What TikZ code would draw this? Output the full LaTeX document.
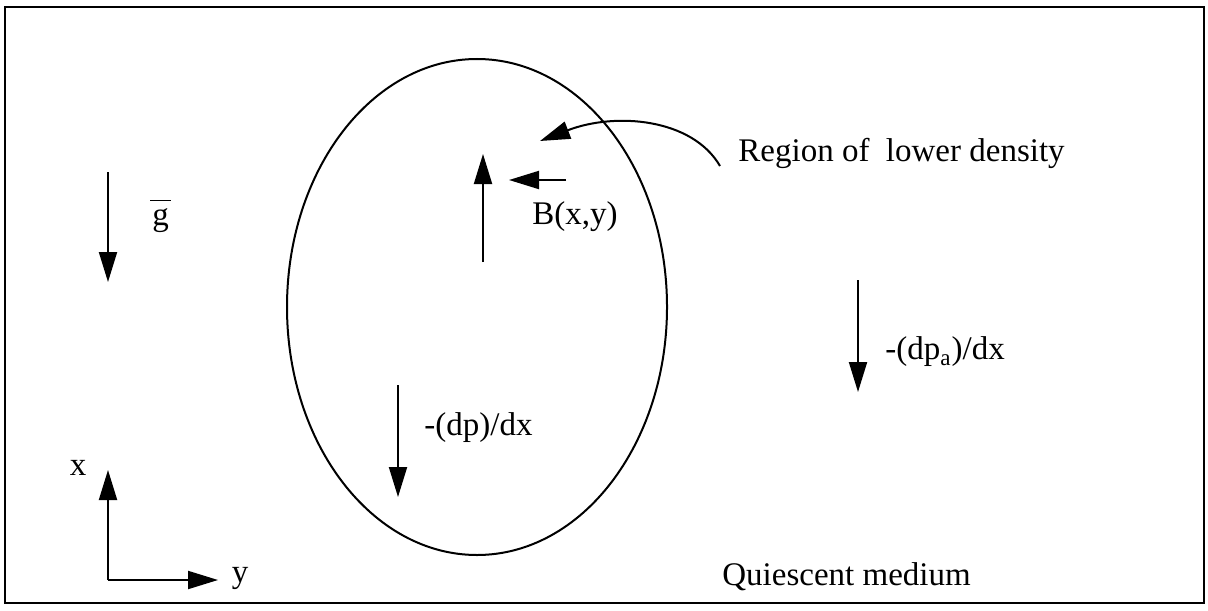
\documentclass[tikz,border=0pt]{standalone}
\usepackage{fontspec}
\setmainfont{Liberation Serif}
\usetikzlibrary{arrows.meta,shapes.geometric}
\begin{document}
\begin{tikzpicture}[x=0.5pt,y=-0.5pt,
  lbl/.style={inner sep=0pt,font=\fontsize{16.5}{19}\selectfont},
  arr/.style={line width=1pt,-{Triangle[length=15pt,width=9pt]}}]
\useasboundingbox (0,0) rectangle (1208,610);
\draw[line width=1.2pt] (5,7) rectangle (1204,603);
% ellipse
\node[draw,line width=1pt,ellipse,minimum width=190pt,minimum height=248pt,inner sep=0pt] (blob) at (477,307) {};
% gravity
\coordinate (g1) at (108,172);
\coordinate (g2) at (108,282);
\draw[arr] (g1) -- (g2);
\node[lbl,anchor=west] (g) at (150,216) {\(\overline{\hbox{\kern1pt g\kern1pt}\vphantom{\hbox{A}}}\)};
% buoyancy
\coordinate (b1) at (483,262);
\coordinate (b2) at (483,154);
\draw[arr] (b1) -- (b2);
\coordinate (s1) at (566,180);
\coordinate (s2) at (509,180);
\draw[arr] (s1) -- (s2);
\node[lbl,anchor=west] (B) at (532,217) {B(x,y)};
% region label
\node[lbl,anchor=west] (reg) at (738,153) {Region of\ \ lower density};
\coordinate (c1) at (720,166);
\coordinate (c2) at (540,141);
\draw[arr] (c1) .. controls (692,118) and (615,112) .. (c2);
% pressure inside
\coordinate (p1) at (398,385);
\coordinate (p2) at (398,497);
\draw[arr] (p1) -- (p2);
\node[lbl,anchor=west] (dp) at (424,428) {-(dp)/dx};
% pressure outside
\coordinate (q1) at (858,280);
\coordinate (q2) at (858,392);
\draw[arr] (q1) -- (q2);
\node[lbl,anchor=west] (dpa) at (885,352) {-(dp\textsubscript{a})/dx};
% medium
\node[lbl,anchor=west] (med) at (722,577) {Quiescent medium};
% axes
\coordinate (o) at (108,580);
\coordinate (ax) at (108,470);
\coordinate (ay) at (218,580);
\draw[arr] (o) -- (ax);
\draw[arr] (o) -- (ay);
\node[lbl] (xl) at (78,468) {x};
\node[lbl] (yl) at (240,578) {y};
\end{tikzpicture}
\end{document}
